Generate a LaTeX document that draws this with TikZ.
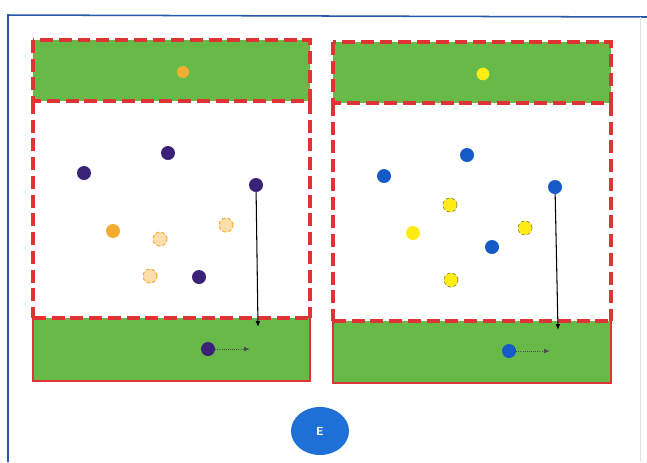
\documentclass[tikz,border=0pt]{standalone}
\usetikzlibrary{arrows.meta,shapes.geometric}
\definecolor{fieldgreen}{RGB}{104,186,72}
\definecolor{linered}{RGB}{222,52,52}
\definecolor{frameblue}{RGB}{40,90,170}
\definecolor{purpleteam}{RGB}{58,34,120}
\definecolor{orangeteam}{RGB}{246,172,50}
\definecolor{orangepale}{RGB}{252,222,170}
\definecolor{yellowteam}{RGB}{255,236,20}
\definecolor{yellowline}{RGB}{150,140,60}
\definecolor{blueteam}{RGB}{22,90,200}
\definecolor{eblue}{RGB}{30,112,214}
\tikzset{
  reddash/.style={draw=linered, line width=2.6pt, dash pattern=on 11pt off 5pt},
  redsolid/.style={draw=linered, line width=1.6pt},
  player/.style={circle, inner sep=0pt, minimum size=0.42cm},
  purpleplayer/.style={player, fill=purpleteam},
  blueplayer/.style={player, fill=blueteam},
  orangeplayer/.style={player, fill=orangeteam},
  orangeghost/.style={player, fill=orangepale, draw=orangeteam, densely dashed, line width=0.9pt},
  yellowplayer/.style={player, fill=yellowteam},
  yellowghost/.style={player, fill=yellowteam, draw=yellowline, densely dashed, line width=0.6pt},
  runline/.style={draw=black, line width=0.9pt, -{Latex[length=5pt,width=4pt]}},
  passline/.style={draw=black!70, line width=0.8pt, densely dotted, -{Latex[length=5pt,width=4pt]}},
  labelbadge/.style={ellipse, fill=eblue, text=white, inner sep=0pt, minimum width=1.74cm, minimum height=1.44cm, font=\sffamily\bfseries}
}
\begin{document}
\begin{tikzpicture}[x=0.03cm,y=-0.03cm]
\useasboundingbox (0,0) rectangle (647,462);
\fill[white] (0,0) rectangle (647,462);
% outer frame
\draw[frameblue, line width=1.3pt] (8,462) -- (8,15) -- (647,17);
\draw[black!12, line width=0.6pt] (640,17) -- (640,462);

% ---------- left field ----------
\fill[fieldgreen] (33,40) rectangle (310,101);
\draw[reddash] (33,40) rectangle (310,101);
\draw[reddash] (33,101) -- (33,318);
\draw[reddash] (310,101) -- (310,318);
\fill[fieldgreen] (33,318) rectangle (310,381);
\draw[redsolid] (33,318) -- (33,381) -- (310,381) -- (310,318);
\draw[reddash] (33,318) -- (310,318);

\node[orangeplayer, minimum size=0.36cm] (lt) at (183,72) {};
\node[purpleplayer] (lp1) at (84,173) {};
\node[purpleplayer] (lp2) at (168,153) {};
\node[purpleplayer] (lp3) at (256,185) {};
\node[purpleplayer] (lp4) at (199,277) {};
\node[orangeplayer] (lo1) at (113,231) {};
\node[orangeghost] (lo2) at (160,239) {};
\node[orangeghost] (lo3) at (226,225) {};
\node[orangeghost] (lo4) at (150,276) {};
\node[purpleplayer] (lb) at (208,349) {};
\coordinate (lrun) at (258,327);
\coordinate (lpass) at (250,349);
\draw[runline] (lp3) -- (lrun);
\draw[passline] (lb) -- (lpass);

% ---------- right field ----------
\fill[fieldgreen] (333,42) rectangle (611,103);
\draw[reddash] (333,42) rectangle (611,103);
\draw[reddash] (333,103) -- (333,321);
\draw[reddash] (611,103) -- (611,321);
\fill[fieldgreen] (333,321) rectangle (611,383);
\draw[redsolid] (333,321) -- (333,383) -- (611,383) -- (611,321);
\draw[reddash] (333,321) -- (611,321);

\node[yellowplayer, minimum size=0.38cm] (rt) at (483,74) {};
\node[blueplayer] (rp1) at (384,176) {};
\node[blueplayer] (rp2) at (467,155) {};
\node[blueplayer] (rp3) at (555,187) {};
\node[blueplayer] (rp4) at (492,247) {};
\node[yellowplayer] (ry1) at (413,233) {};
\node[yellowghost] (ry2) at (450,205) {};
\node[yellowghost] (ry3) at (525,228) {};
\node[yellowghost] (ry4) at (451,280) {};
\node[blueplayer] (rb) at (509,351) {};
\coordinate (rrun) at (558,330);
\coordinate (rpass) at (550,351);
\draw[runline] (rp3) -- (rrun);
\draw[passline] (rb) -- (rpass);

% ---------- badge ----------
\node[labelbadge] (badge) at (320,431) {E};
\end{tikzpicture}
\end{document}
